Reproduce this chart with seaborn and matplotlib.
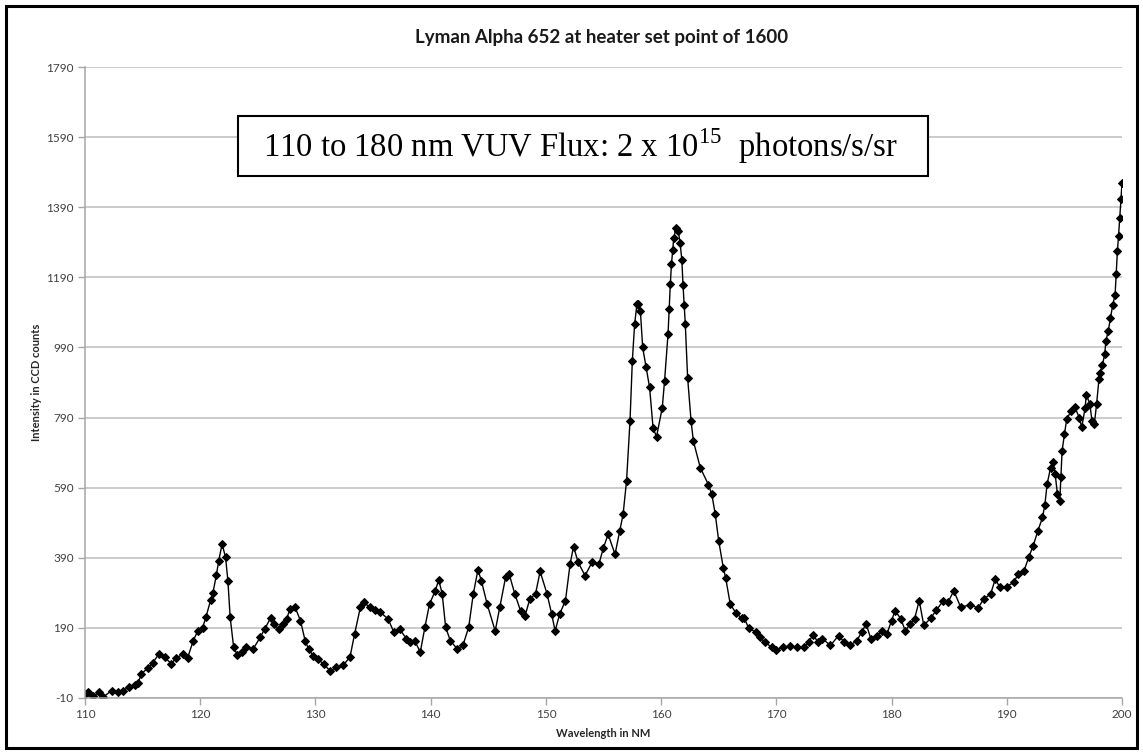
import matplotlib
matplotlib.use("Agg")
import matplotlib.pyplot as plt
import seaborn as sns
import pandas as pd
from matplotlib.patches import Rectangle

# ---- data ----
wavelength_nm = [
    110.0, 110.3, 110.7, 111.2, 111.6, 112.3, 112.9, 113.3, 113.8, 114.3,
    114.6, 114.9, 115.5, 115.9, 116.4, 116.9, 117.5, 117.9, 118.5, 118.9,
    119.4, 119.8, 120.2, 120.5, 120.9, 121.1, 121.4, 121.6, 121.9, 122.2,
    122.4, 122.6, 122.9, 123.2, 123.6, 124.0, 124.6, 125.2, 125.6, 126.1,
    126.4, 126.8, 127.2, 127.5, 127.8, 128.2, 128.7, 129.1, 129.4, 129.8,
    130.2, 130.7, 131.3, 131.8, 132.4, 133.0, 133.4, 133.9, 134.2, 134.7,
    135.2, 135.6, 136.3, 136.8, 137.3, 137.9, 138.2, 138.6, 139.1, 139.5,
    139.9, 140.4, 140.7, 141.0, 141.3, 141.7, 142.3, 142.8, 143.3, 143.7,
    144.1, 144.4, 144.9, 145.6, 146.0, 146.5, 146.8, 147.3, 147.8, 148.2,
    148.6, 149.1, 149.5, 150.1, 150.5, 150.8, 151.2, 151.7, 152.1, 152.4,
    152.8, 153.4, 154.0, 154.6, 155.0, 155.4, 156.0, 156.4, 156.7, 157.0,
    157.3, 157.5, 157.7, 157.9, 158.0, 158.2, 158.4, 158.7, 159.0, 159.3,
    159.6, 160.1, 160.3, 160.6, 160.7, 160.8, 160.9, 161.0, 161.1, 161.3,
    161.5, 161.65, 161.8, 161.9, 162.0, 162.1, 162.3, 162.6, 162.8, 163.4,
    164.1, 164.4, 164.7, 165.0, 165.4, 165.6, 166.0, 166.5, 167.0, 167.2,
    167.6, 168.2, 168.6, 169.0, 169.6, 170.0, 170.6, 171.2, 171.8, 172.4,
    172.8, 173.2, 173.6, 174.0, 174.7, 175.4, 175.9, 176.4, 177.0, 177.4,
    177.8, 178.2, 178.7, 179.2, 179.6, 180.0, 180.3, 180.8, 181.2, 181.6,
    182.0, 182.4, 182.8, 183.4, 183.9, 184.5, 184.9, 185.4, 186.0, 186.8,
    187.5, 188.0, 188.6, 189.0, 189.4, 190.0, 190.6, 191.0, 191.5, 191.9,
    192.3, 192.7, 193.1, 193.3, 193.5, 193.8, 194.0, 194.2, 194.4, 194.6,
    194.7, 194.8, 195.0, 195.2, 195.6, 195.9, 196.3, 196.5, 196.8, 196.9,
    197.2, 197.4, 197.6, 197.8, 198.0, 198.1, 198.3, 198.5, 198.6, 198.8,
    199.0, 199.2, 199.4, 199.5, 199.6, 199.7, 199.8, 199.9, 200.0,
]
intensity_counts = [
    2, 7, -5, 6, -7, 11, 7, 11, 21, 28,
    33, 59, 77, 91, 115, 106, 88, 104, 115, 104,
    154, 182, 190, 221, 269, 290, 340, 381, 429, 391,
    325, 220, 135, 114, 122, 135, 130, 163, 187, 218,
    200, 187, 200, 216, 244, 251, 211, 154, 130, 111,
    100, 88, 66, 78, 83, 107, 173, 249, 263, 249,
    242, 235, 216, 178, 187, 159, 149, 154, 121, 192,
    258, 296, 327, 287, 192, 154, 130, 140, 192, 287,
    355, 325, 258, 181, 249, 334, 345, 287, 239, 225,
    272, 287, 351, 287, 230, 181, 230, 268, 372, 422,
    377, 339, 377, 372, 419, 457, 400, 466, 514, 609,
    780, 950, 1056, 1113, 1115, 1094, 990, 933, 876, 761,
    735, 818, 895, 1028, 1101, 1171, 1228, 1267, 1303, 1331,
    1321, 1287, 1240, 1169, 1110, 1056, 904, 780, 723, 647,
    599, 571, 514, 438, 361, 333, 258, 232, 218, 218,
    190, 178, 163, 149, 135, 126, 135, 137, 136, 135,
    149, 171, 149, 159, 140, 168, 149, 140, 154, 178,
    201, 159, 168, 182, 173, 211, 239, 216, 181, 201,
    216, 268, 197, 218, 241, 268, 263, 296, 249, 256,
    247, 272, 287, 329, 306, 308, 320, 344, 353, 391,
    425, 467, 505, 540, 600, 647, 664, 628, 571, 552,
    620, 694, 742, 785, 810, 820, 789, 762, 817, 855,
    830, 780, 772, 830, 900, 917, 941, 970, 1008, 1036,
    1074, 1112, 1140, 1200, 1264, 1308, 1359, 1413, 1458,
]
y_ticks = [-10, 190, 390, 590, 790, 990, 1190, 1390, 1590, 1790]
x_ticks = [110, 120, 130, 140, 150, 160, 170, 180, 190, 200]

title_text = "Lyman Alpha 652 at heater set point of 1600"
x_label = "Wavelength in NM"
y_label = "Intensity in CCD counts"
box_text = r"110 to 180 nm VUV Flux: 2 x 10$^{15}$  photons/s/sr"

df = pd.DataFrame({"wavelength": wavelength_nm, "intensity": intensity_counts})

sns.set_theme(style="white")
plt.rcParams["font.family"] = ["Lato", "DejaVu Sans"]
plt.rcParams["mathtext.fontset"] = "custom"
plt.rcParams["mathtext.rm"] = "Liberation Serif"

fig = plt.figure(figsize=(11.43, 7.54), dpi=100)
ax = fig.add_axes([85 / 1143, 1 - 698 / 754, (1122 - 85) / 1143, (698 - 67) / 754])

sns.lineplot(data=df, x="wavelength", y="intensity", ax=ax, color="black",
             linewidth=1.0, marker="D", markersize=3.8, markeredgecolor="black",
             markerfacecolor="black", sort=False)

ax.set_xlim(110, 200)
ax.set_ylim(-10, 1790)
ax.set_xticks(x_ticks)
ax.set_yticks(y_ticks)
ax.set_xticklabels([str(t) for t in x_ticks])
ax.set_yticklabels([str(t) for t in y_ticks])
ax.yaxis.grid(True, color="#bdbdbd", linewidth=1.1)
ax.xaxis.grid(False)
for side in ["top", "right"]:
    ax.spines[side].set_visible(False)
for side in ["left", "bottom"]:
    ax.spines[side].set_color("#a6a6a6")
    ax.spines[side].set_linewidth(1.1)
ax.tick_params(axis="both", which="major", direction="out", length=5, width=1,
               color="#a6a6a6", labelsize=8.5, labelcolor="#404040", pad=3, left=True, bottom=True)

ax.set_xlabel(x_label, fontsize=8, fontweight="bold", color="#262626", labelpad=6)
ax.set_ylabel(y_label, fontsize=8, fontweight="bold", color="#262626", labelpad=3)

fig.text(602 / 1143, 1 - 38 / 754, title_text, ha="center", va="center",
         fontsize=13.5, fontweight="bold", color="#1a1a1a")

# annotation box
fig.patches.append(Rectangle((238 / 1143, 1 - 176 / 754), (928 - 238) / 1143, (176 - 116) / 754,
                             transform=fig.transFigure, facecolor="white", edgecolor="black",
                             linewidth=1.5, zorder=5))
fig.text(580 / 1143, 1 - 146 / 754, box_text, ha="center", va="center",
         fontsize=23.5, family="Liberation Serif", color="black", zorder=6)

# outer chart border
fig.patches.append(Rectangle((6 / 1143, 6 / 754), (1137 - 6) / 1143, (748 - 6) / 754,
                             transform=fig.transFigure, facecolor="none", edgecolor="black",
                             linewidth=2.2, zorder=10))

fig.savefig("out.png", dpi=100)
